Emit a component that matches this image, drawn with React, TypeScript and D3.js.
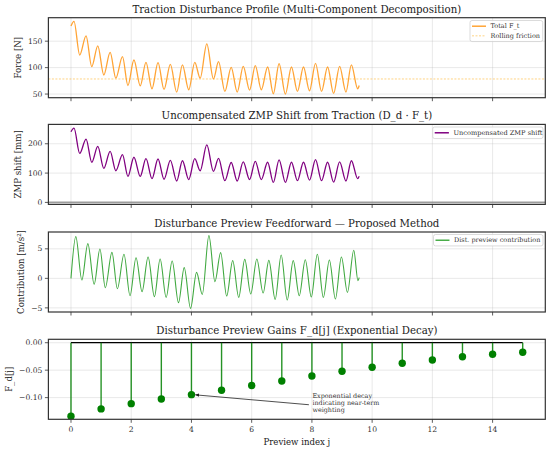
import { useEffect } from 'react';
import * as d3 from 'd3';

// time stamps / values of the turning points
const forceT = [0, 0.1, 0.29, 0.5, 0.69, 0.89, 1.09, 1.3, 1.49, 1.71, 1.89, 2.09, 2.3, 2.49, 2.69, 2.89, 3.09, 3.3, 3.51, 3.7, 3.91, 4.11, 4.29, 4.51, 4.73, 4.9, 5.11, 5.32, 5.52, 5.72, 5.93, 6.12, 6.32, 6.53, 6.72, 6.91, 7.12, 7.32, 7.52, 7.72, 7.92, 8.12, 8.32, 8.52, 8.72, 8.92, 9.13, 9.31, 9.52, 9.57];
const forceVal = [178.7, 187.5, 123.8, 160, 101.8, 141.2, 86, 128.7, 80, 120.6, 66.2, 114.4, 65.6, 110, 60, 109.4, 58.7, 106, 53.8, 105, 58.1, 110, 80, 145, 78.7, 111.2, 55, 100.6, 53.8, 102.5, 57.5, 103.7, 58.1, 101.2, 50.6, 107.5, 50, 101.2, 55, 101.2, 56.2, 108, 55, 101.2, 51.2, 102.5, 53.8, 105, 60, 66.2];
const rollingFriction = 78.5;

const zmpVal = [241, 253, 167, 216, 137, 191, 116, 174, 108, 163, 89, 154, 89, 149, 81, 148, 79, 143, 73, 142, 78, 149, 108, 196, 106, 150, 74, 136, 73, 138, 78, 140, 78, 137, 68, 145, 68, 137, 74, 137, 76, 146, 74, 137, 69, 138, 73, 142, 81, 89];

const contribT = [0, 0.16, 0.36, 0.56, 0.77, 0.96, 1.14, 1.36, 1.54, 1.76, 1.96, 2.16, 2.36, 2.56, 2.77, 2.96, 3.16, 3.36, 3.57, 3.76, 3.97, 4.17, 4.36, 4.58, 4.78, 4.97, 5.17, 5.37, 5.57, 5.77, 5.97, 6.17, 6.38, 6.57, 6.78, 6.98, 7.18, 7.38, 7.58, 7.78, 7.98, 8.18, 8.38, 8.58, 8.78, 8.98, 9.18, 9.39, 9.53, 9.57];
const contribVal = [0, 7.07, -0.28, 5.88, -1.0, 4.97, -1.58, 4.4, -1.75, 4.07, -2.94, 3.5, -2.26, 3.61, -3.1, 3.27, -3.22, 2.93, -4.12, 1.81, -5.08, 1.02, -2.71, 7.23, -0.56, 4.35, -3.0, 3.0, -3.22, 3.22, -2.66, 3.27, -2.49, 3.05, -3.56, 3.95, -3.67, 3.0, -2.94, 3.16, -3.16, 4.07, -3.22, 3.1, -3.5, 3.61, -2.37, 4.75, -0.39, 0.12];

const previewIdx = [0, 1, 2, 3, 4, 5, 6, 7, 8, 9, 10, 11, 12, 13, 14, 15];
const gains = [-0.134, -0.1206, -0.111, -0.1024, -0.0946, -0.0866, -0.078, -0.0697, -0.0606, -0.052, -0.0448, -0.0375, -0.0315, -0.0255, -0.021, -0.0175];

const xTicks = [0, 2, 4, 6, 8, 10, 12, 14];
const forceTicks = [50, 100, 150];
const zmpTicks = [0, 100, 200];
const contribTicks = [-5, 0, 5];
const gainTicks = [0, -0.05, -0.1];

const W = 550;
const H = 451;
const L = 48.4;
const R = 545.3;
const PH = 80;
const tops = [17.7, 124.4, 232, 339.3];
const FONT = '"DejaVu Serif", serif';
const FRAME = '#333';

const x = d3.scaleLinear().domain([-0.75, 15.75]).range([L, R]);
const minus = (s: string) => s.replace('-', '\u2212');

function Panel({ top, y, ticks, fmt, title, ylabel, ylabelX, showX, children }: any) {
  return (
    <g>
      {xTicks.map(t => (
        <line key={'gx' + t} x1={x(t)} x2={x(t)} y1={top} y2={top + PH} stroke="#b0b0b0" strokeOpacity={0.35} strokeWidth={0.8} />
      ))}
      {ticks.map((t: number) => (
        <line key={'gy' + t} x1={L} x2={R} y1={y(t)} y2={y(t)} stroke="#b0b0b0" strokeOpacity={0.35} strokeWidth={0.8} />
      ))}
      <g clipPath={`url(#clip${top})`}>{children}</g>
      <clipPath id={`clip${top}`}>
        <rect x={L} y={top} width={R - L} height={PH} />
      </clipPath>
      <rect x={L} y={top} width={R - L} height={PH} fill="none" stroke={FRAME} strokeWidth={1.2} />
      {ticks.map((t: number) => (
        <g key={'ty' + t}>
          <line x1={L - 3.5} x2={L} y1={y(t)} y2={y(t)} stroke={FRAME} strokeWidth={0.8} />
          <text x={L - 6} y={y(t)} dy="0.35em" textAnchor="end" fontSize={7.6} fill="#333" fontFamily={FONT}>{minus(fmt(t))}</text>
        </g>
      ))}
      {xTicks.map(t => (
        <g key={'tx' + t}>
          <line x1={x(t)} x2={x(t)} y1={top + PH} y2={top + PH + 3.5} stroke={FRAME} strokeWidth={0.8} />
          {showX && (
            <text x={x(t)} y={top + PH + 12.5} textAnchor="middle" fontSize={7.6} fill="#333" fontFamily={FONT}>{t}</text>
          )}
        </g>
      ))}
      <text x={(L + R) / 2} y={top - 5} textAnchor="middle" fontSize={10.2} fill="#222" fontFamily={FONT}>{title}</text>
      <text transform={`translate(${ylabelX},${top + PH / 2}) rotate(-90)`} textAnchor="middle" dy="0.35em" fontSize={8.6} fill="#222" fontFamily={FONT}>{ylabel}</text>
    </g>
  );
}

// matplotlib-like legend box: sample line, then label
function Legend({ left, right, top, rows, fs = 6.5 }: any) {
  const rowH = fs * 1.48;
  const handle = fs * 2.15;
  return (
    <g>
      <rect x={left} y={top} width={right - left} height={rows.length * rowH + 1.8} rx={2} fill="#fff" fillOpacity={0.85} stroke="#ccc" strokeWidth={0.7} />
      {rows.map((r: any, i: number) => {
        const cy = top + rowH * 0.5 + 0.9 + i * rowH;
        return (
          <g key={r.label}>
            <line x1={left + 2} x2={left + 2 + handle} y1={cy} y2={cy} stroke={r.color} strokeWidth={r.width} strokeDasharray={r.dash} strokeOpacity={r.opacity} />
            <text x={left + 2 + handle + fs * 0.7} y={cy} dy="0.35em" fontSize={fs} fill="#333" fontFamily={FONT}>{r.label}</text>
          </g>
        );
      })}
    </g>
  );
}

export default function App() {
  useEffect(() => {
    document.body.style.margin = '0';
  }, []);

  const yF = d3.scaleLinear().domain([43.1, 194.4]).range([tops[0] + PH, tops[0]]);
  const yZ = d3.scaleLinear().domain([-6.8, 266]).range([tops[1] + PH, tops[1]]);
  const yC = d3.scaleLinear().domain([-5.7, 7.85]).range([tops[2] + PH, tops[2]]);
  const yG = d3.scaleLinear().domain([-0.1395, 0.0062]).range([tops[3] + PH, tops[3]]);

  const lineF = d3.line<number>().x((_, i) => x(forceT[i])).y(d => yF(d)).curve(d3.curveMonotoneX);
  const lineZ = d3.line<number>().x((_, i) => x(forceT[i])).y(d => yZ(d)).curve(d3.curveMonotoneX);
  const lineC = d3.line<number>().x((_, i) => x(contribT[i])).y(d => yC(d)).curve(d3.curveMonotoneX);

  const fmtInt = d3.format('d');
  const fmtGain = d3.format('.2f');

  const arrowTip = [x(4) + 4, yG(gains[4]) + 0.2];
  const arrowTail = [x(7.9), yG(-0.113)];
  const noteX = x(8) + 0.5;
  const noteY = yG(-0.1005);

  return (
    <svg width={W} height={H} style={{ display: 'block', background: '#fff' }}>
      <defs>
        <marker id="ah" viewBox="0 0 10 10" refX={9} refY={5} markerWidth={5} markerHeight={5} orient="auto-start-reverse">
          <path d="M0,1 L10,5 L0,9 z" fill="#222" />
        </marker>
      </defs>

      <Panel top={tops[0]} y={yF} ticks={forceTicks} fmt={fmtInt} title="Traction Disturbance Profile (Multi-Component Decomposition)" ylabel="Force [N]" ylabelX={18}>
        <line x1={L} x2={R} y1={yF(rollingFriction)} y2={yF(rollingFriction)} stroke="#ffa500" strokeOpacity={0.55} strokeWidth={0.9} strokeDasharray="2,1.5" />
        <path d={lineF(forceVal) || ''} fill="none" stroke="#ff9a1f" strokeOpacity={0.9} strokeWidth={1.3} />
      </Panel>
      <Legend left={470} right={542.7} top={20.5} rows={[
        { label: 'Total F_t', color: '#ff9a1f', width: 1.5, opacity: 0.9 },
        { label: 'Rolling friction', color: '#ffa500', width: 0.9, dash: '2,1.5', opacity: 0.55 },
      ]} />

      <Panel top={tops[1]} y={yZ} ticks={zmpTicks} fmt={fmtInt} title="Uncompensated ZMP Shift from Traction (D_d · F_t)" ylabel="ZMP shift [mm]" ylabelX={18}>
        <line x1={L} x2={R} y1={yZ(0)} y2={yZ(0)} stroke="#888" strokeOpacity={0.8} strokeWidth={1.8} />
        <path d={lineZ(zmpVal) || ''} fill="none" stroke="#800080" strokeWidth={1.3} />
      </Panel>
      <Legend left={432.7} right={543} top={127} fs={6.6} rows={[
        { label: 'Uncompensated ZMP shift', color: '#800080', width: 1.5 },
      ]} />

      <Panel top={tops[2]} y={yC} ticks={contribTicks} fmt={fmtInt} title="Disturbance Preview Feedforward — Proposed Method" ylabel="Contribution [m/s²]" ylabelX={20.5}>
        <path d={lineC(contribVal) || ''} fill="none" stroke="#2ca02c" strokeOpacity={0.9} strokeWidth={1.1} />
      </Panel>
      <Legend left={433.5} right={543} top={234.5} rows={[
        { label: 'Dist. preview contribution', color: '#2ca02c', width: 1.3 },
      ]} />

      <Panel top={tops[3]} y={yG} ticks={gainTicks} fmt={fmtGain} title="Disturbance Preview Gains F_d[j] (Exponential Decay)" ylabel="F_d[j]" ylabelX={8.5} showX>
        <line x1={x(previewIdx[0])} x2={x(previewIdx[previewIdx.length - 1])} y1={yG(0)} y2={yG(0)} stroke="#000" strokeWidth={1.3} />
        {previewIdx.map((j, i) => (
          <line key={'s' + j} x1={x(j)} x2={x(j)} y1={yG(0)} y2={yG(gains[i])} stroke="#008000" strokeOpacity={0.85} strokeWidth={1.4} />
        ))}
        {previewIdx.map((j, i) => (
          <circle key={'m' + j} cx={x(j)} cy={yG(gains[i])} r={3.7} fill="#008000" />
        ))}
      </Panel>
      <line x1={arrowTail[0]} y1={arrowTail[1]} x2={arrowTip[0]} y2={arrowTip[1]} stroke="#222" strokeWidth={0.8} markerEnd="url(#ah)" />
      <text x={noteX} y={noteY} fontSize={6.4} fill="#333" fontFamily={FONT}>
        <tspan x={noteX} dy="0">Exponential decay</tspan>
        <tspan x={noteX} dy="7.2">indicating near-term</tspan>
        <tspan x={noteX} dy="7.2">weighting</tspan>
      </text>
      <text x={(L + R) / 2} y={444.8} textAnchor="middle" fontSize={8.6} fill="#222" fontFamily={FONT}>Preview index j</text>
    </svg>
  );
}
